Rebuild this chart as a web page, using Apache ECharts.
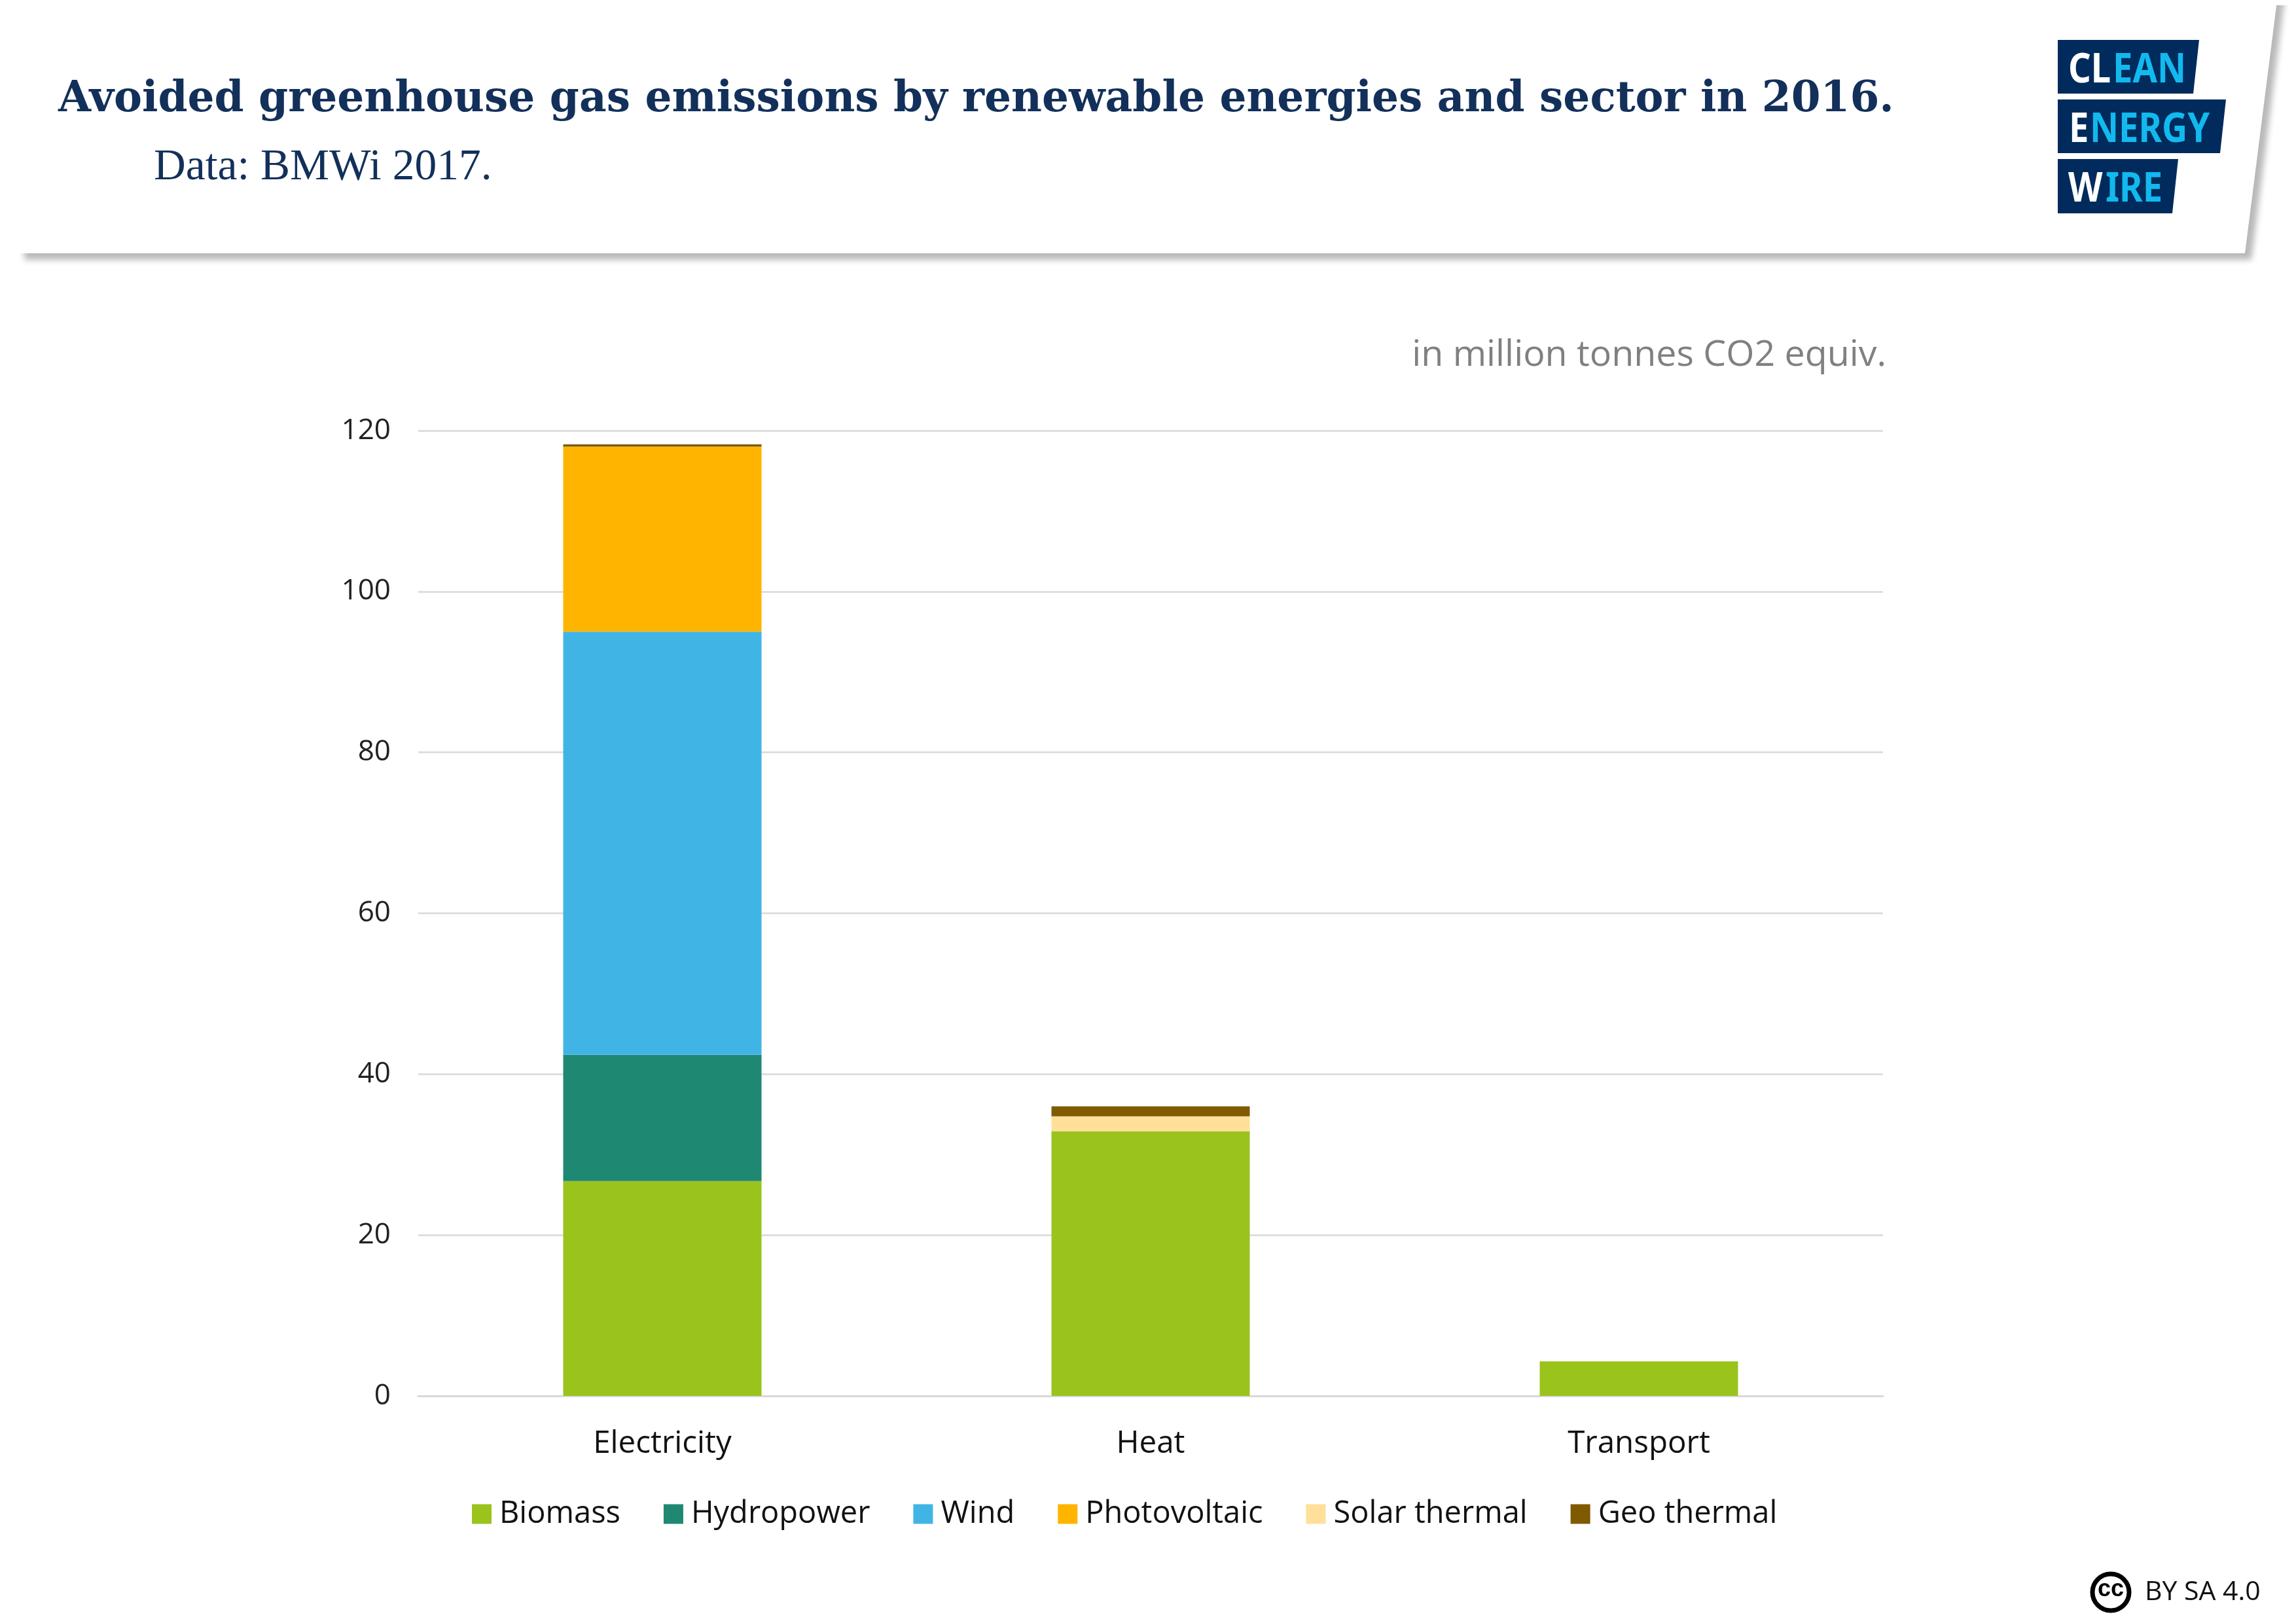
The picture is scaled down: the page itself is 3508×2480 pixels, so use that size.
<!DOCTYPE html>
<html><head><meta charset="utf-8">
<style>html,body{margin:0;padding:0;background:#fff}#c{width:3508px;height:2480px}</style>
<script src="https://cdn.jsdelivr.net/npm/echarts@6/dist/echarts.min.js"></script>
</head><body><div id="c"></div>
<script>
const categories = ['Electricity','Heat','Transport'];
const biomass = [26.7, 32.9, 4.3];
const hydropower = [15.7, 0, 0];
const wind = [52.6, 0, 0];
const photovoltaic = [23.0, 0, 0];
const solarThermal = [0, 1.85, 0];
const geoThermal = [0.3, 1.25, 0];
const seriesNames = ['Biomass','Hydropower','Wind','Photovoltaic','Solar thermal','Geo thermal'];
const seriesColors = ['#9AC31C','#1F8873','#41B4E6','#FFB400','#FFDF99','#7F5A00'];
const seriesValues = [biomass,hydropower,wind,photovoltaic,solarThermal,geoThermal];
const titleText = 'Avoided greenhouse gas emissions by renewable energies and sector in 2016.';
const subtitleText = 'Data: BMWi 2017.';
const unitText = 'in million tonnes CO2 equiv.';
const licenseText = 'BY SA 4.0';

const NAVY='#002B5C', CYAN='#12B9EE', TXT='#12305A';
function logoText(t,x,y,c){return {type:'text',x:x,y:y,scaleX:0.875,z:12,style:{text:t,x:0,y:0,fill:c,font:'700 62px "Noto Sans"',textVerticalAlign:'middle',textBaseline:'middle'}};}
function poly(p){return {type:'polygon',z:11,shape:{points:p},style:{fill:NAVY}};}

const chart = echarts.init(document.getElementById('c'),null,{renderer:'canvas',width:3508,height:2480});
chart.setOption({
  animation:false,
  backgroundColor:'#fff',
  textStyle:{fontFamily:'"Open Sans"'},
  grid:{left:639,right:631,top:658,bottom:347,containLabel:false},
  legend:{
    left:716,top:2285,icon:'rect',itemWidth:30,itemHeight:30,itemGap:66,
    data:seriesNames,
    textStyle:{fontFamily:'"Open Sans"',fontSize:47,color:'#111',padding:[0,0,0,7]}
  },
  xAxis:{type:'category',data:categories,
    axisLine:{lineStyle:{color:'#D9D9D9',width:3}},axisTick:{show:false},
    axisLabel:{margin:49,fontSize:47.5,color:'#111',fontFamily:'"Open Sans"'}},
  yAxis:{type:'value',min:0,max:120,interval:20,
    axisLine:{show:false},axisTick:{show:false},
    splitLine:{lineStyle:{color:'#D9D9D9',width:2.5}},
    axisLabel:{margin:42,fontSize:44,color:'#222',fontFamily:'"Open Sans"',padding:[3,0,0,0]}},
  series:seriesNames.map((n,i)=>({
    name:n,type:'bar',stack:'total',barWidth:303,data:seriesValues[i],
    itemStyle:{color:seriesColors[i]}
  })),
  graphic:[
    {type:'polygon',z:10,shape:{points:[[27,-30],[3483,-30],[3430,387],[27,387]]},
     style:{fill:'#fff',shadowColor:'rgba(0,0,0,0.28)',shadowBlur:10,shadowOffsetX:10,shadowOffsetY:10}},
    {type:'rect',z:10,shape:{x:3400,y:0,width:108,height:8},style:{fill:'#fff'}},
    {type:'text',z:12,x:89,y:186,style:{text:titleText,fill:TXT,font:'700 64.5px "DejaVu Serif"',textBaseline:'alphabetic',textVerticalAlign:'bottom'}},
    {type:'text',z:12,x:235,y:222,style:{text:subtitleText,fill:TXT,font:'400 67.5px "Liberation Serif"',textBaseline:'alphabetic'}},
    poly([[3144,61],[3360,61],[3351,143],[3144,143]]),
    poly([[3144,152],[3401,152],[3392,234],[3144,234]]),
    poly([[3144,243],[3328,243],[3319,326],[3144,326]]),
    logoText('CL',3160,108,'#fff'),logoText('EAN',3228,108,CYAN),
    logoText('E',3161,199,'#fff'),logoText('NERGY',3193,199,CYAN),
    logoText('W',3160,290,'#fff'),logoText('IRE',3217,290,CYAN),
    {type:'text',z:12,x:2882,y:543,style:{text:unitText,fill:'#808080',font:'400 55.5px "Open Sans"',textAlign:'right',textVerticalAlign:'middle',textBaseline:'middle'}},
    {type:'circle',z:12,shape:{cx:3225,cy:2433,r:28},style:{fill:'#fff',stroke:'#000',lineWidth:7}},
    {type:'text',z:13,x:3225,y:2429,style:{text:'cc',fill:'#000',font:'700 36px "Liberation Sans"',textAlign:'center',textVerticalAlign:'middle',textBaseline:'middle'}},
    {type:'text',z:12,x:3277,y:2433,style:{text:licenseText,fill:'#111',font:'400 41px "Open Sans"',textVerticalAlign:'middle',textBaseline:'middle'}}
  ]
});
</script></body></html>
